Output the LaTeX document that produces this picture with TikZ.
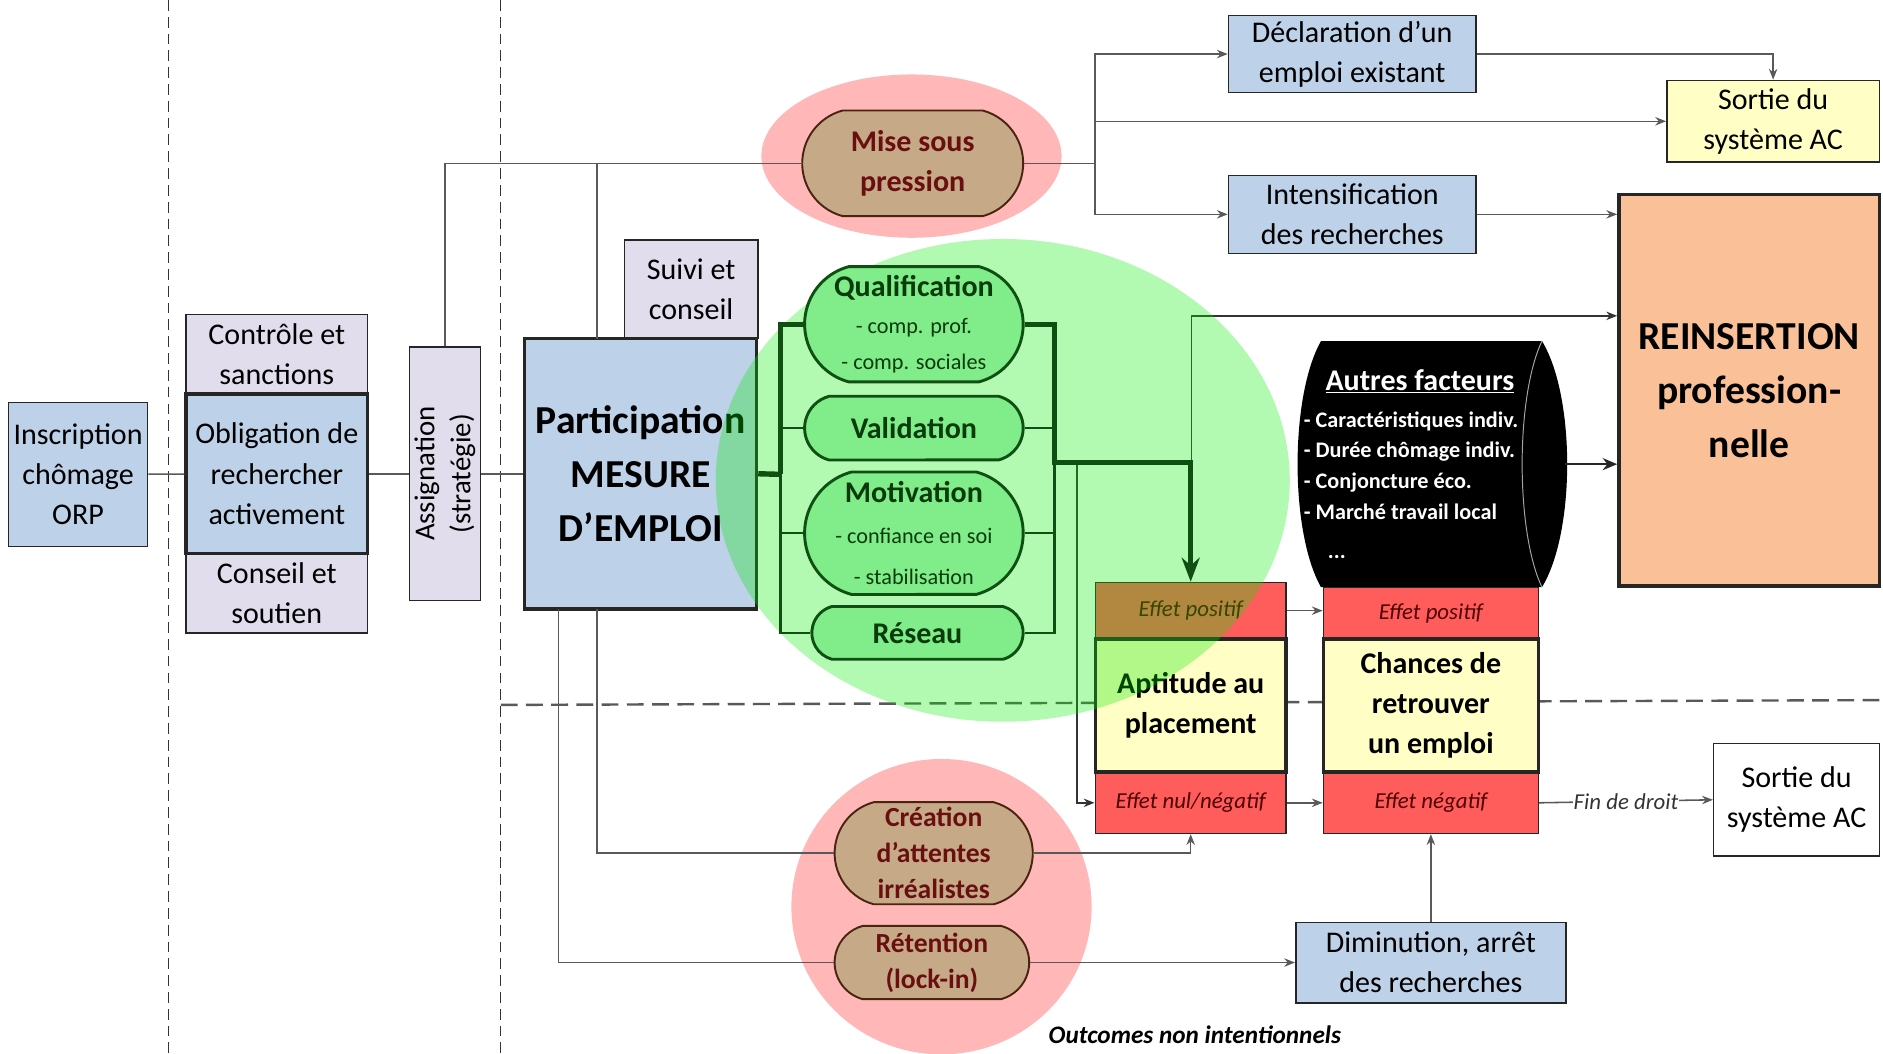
\documentclass[tikz,border=0pt]{standalone}
\usepackage{fontspec}
\setmainfont{Carlito}
\usetikzlibrary{arrows.meta,shapes.misc}

\definecolor{bluebox}{HTML}{BDD1E8}
\definecolor{lilac}{HTML}{E2DDEC}
\definecolor{paleyellow}{HTML}{FFFFC5}
\definecolor{effred}{HTML}{FF5C5C}
\definecolor{salmonbox}{HTML}{FAC098}
\definecolor{tanfill}{HTML}{C6AA88}
\definecolor{darkbrown}{HTML}{4A2410}
\definecolor{maroontxt}{HTML}{6A0F0F}
\definecolor{pinkzone}{HTML}{FFB7B7}
\definecolor{greenzone}{RGB}{0,235,0}
\definecolor{greennode}{HTML}{80EC8A}
\definecolor{greenline}{HTML}{0F4F12}
\definecolor{greentxt}{HTML}{0A3B0A}
\definecolor{linegray}{HTML}{595959}

\newcommand{\txtbox}{\fontsize{25}{33.5}\selectfont}
\newcommand{\txthuge}{\fontsize{33}{45}\selectfont\bfseries}
\newcommand{\txteff}{\fontsize{19}{23}\selectfont\itshape}
\newcommand{\txtsmall}{\fontsize{18.5}{25.5}\selectfont}

\begin{document}
\begin{tikzpicture}[x=1pt,y=-1pt,
    wh/.style 2 args={minimum width=#1pt,minimum height=#2pt},
    box/.style={draw=black!85,line width=1.3pt,fill=bluebox,align=center,inner sep=0pt,font=\txtbox},
    lilabox/.style={box,fill=lilac},
    keybox/.style={box,line width=2.8pt},
    effbox/.style={draw=black!85,line width=1.2pt,fill=effred,inner sep=0pt,font=\txteff,text=black!70!red},
    pill/.style={rounded rectangle,rounded rectangle arc length=150,inner sep=0pt,align=center},
    brownpill/.style={pill,draw=darkbrown,line width=1.6pt,fill=tanfill,text=maroontxt,font=\fontsize{23}{30}\selectfont\bfseries},
    greenpill/.style={pill,draw=greenline,line width=2.4pt,fill=greennode,text=greentxt,font=\fontsize{25}{30}\selectfont\bfseries},
    link/.style={draw=linegray,line width=1.3pt},
    arr/.style={link,-{Stealth[length=9pt,width=7pt]}},
    gthick/.style={draw=greenline,line width=4.5pt},
    gthin/.style={draw=greenline,line width=2pt},
    sepv/.style={draw=black!80,line width=0.9pt,dash pattern=on 9pt off 5pt},
    seph/.style={draw=black!65,line width=2pt,dash pattern=on 14pt off 7pt}]
  \useasboundingbox (0,0) rectangle (1568,877);

  \fill[pinkzone] (759,130) ellipse [x radius=125pt,y radius=68pt];
  \fill[pinkzone] (784,755) ellipse [x radius=125pt,y radius=123pt];
  \draw[sepv] (140,0) -- (140,877);
  \draw[sepv] (417,0) -- (417,877);
  \draw[seph] (417,587) -- (1568,583);

  \node[box,wh={116}{120}] (insc) at (65,395) {Inscription\\chômage\\ORP};
  \node[lilabox,wh={151}{66}] (ctrl) at (230.5,295) {Contrôle et\\sanctions};
  \node[lilabox,wh={151}{66}] (cons) at (230.5,494) {Conseil et\\soutien};
  \node[keybox,wh={151}{133}] (oblig) at (230.5,394.5) {Obligation de\\rechercher\\activement};
  \node[lilabox,rotate=90,wh={211}{59},font=\fontsize{24}{30}\selectfont] (assign) at (370.5,394.5) {Assignation\\(stratégie)};
  \node[lilabox,wh={111}{82}] (suivi) at (575.5,241) {Suivi et\\conseil};
  \node[keybox,wh={193}{225},font=\txthuge] (part) at (533.5,394.5) {Participation\\MESURE\\D’EMPLOI};
  \node[brownpill,wh={184}{88},font=\fontsize{25}{34}\selectfont\bfseries] (mise) at (760,136) {Mise sous\\pression};
  \node[box,wh={206}{64}] (decl) at (1126,45) {Déclaration d’un\\emploi existant};
  \node[box,fill=paleyellow,wh={177}{68}] (sortieA) at (1476.5,101) {Sortie du\\système AC};
  \node[box,wh={206}{65}] (intens) at (1126,178.5) {Intensification\\des recherches};
  \node[keybox,fill=salmonbox,wh={217}{326},font=\txthuge] (reins) at (1456.5,325) {REINSERTION\\profession-\\nelle};

  \node[wh={221}{205}] (autres) at (1192.5,386.5) {};
  \fill[black] (1100,284) -- (1284,284) .. controls (1312,330) and (1312,443) .. (1284,489)
    -- (1100,489) .. controls (1074,443) and (1074,330) .. (1100,284) -- cycle;
  \draw[gray!70,line width=0.8pt] (1284,284) .. controls (1262,330) and (1262,443) .. (1284,489);
  \node[text=white,font=\txtsmall\bfseries,align=left,inner sep=0pt] (autrestxt) at (1175,386.5)
    {\hspace*{18pt}{\fontsize{25}{31}\selectfont\underline{Autres facteurs}}\\[5pt]
     - Caractéristiques indiv.\\- Durée chômage indiv.\\- Conjoncture éco.\\- Marché travail local\\[7pt]
     \hspace*{20pt}...};

  \node[effbox,wh={159}{47}] (aptpos) at (991.5,508.5) {Effet positif};
  \node[effbox,wh={159}{51}] (aptneg) at (991.5,668.5) {Effet nul/négatif};
  \node[keybox,fill=paleyellow,wh={159}{111},font=\txtbox\bfseries] (apt) at (991.5,587.5) {Aptitude au\\placement};
  \node[effbox,wh={179}{43}] (chpos) at (1191.5,510.5) {Effet positif};
  \node[effbox,wh={179}{51}] (chneg) at (1191.5,668.5) {Effet négatif};
  \node[keybox,fill=paleyellow,wh={179}{111},font=\txtbox\bfseries] (ch) at (1191.5,587.5) {Chances de\\retrouver\\un emploi};
  \node[box,fill=white,wh={138}{94}] (sortieB) at (1496,666) {Sortie du\\système AC};

  \node[brownpill,wh={165}{85}] (creat) at (777.5,710.5) {Création\\d’attentes\\irréalistes};
  \node[brownpill,wh={162}{61}] (reten) at (776,801.5) {Rétention\\(lock-in)};
  \node[box,wh={225}{67}] (dimin) at (1191.5,801.5) {Diminution, arrêt\\des recherches};
  \node[font=\fontsize{21}{25}\selectfont\bfseries\itshape] (outc) at (995,862) {Outcomes non intentionnels};

  \coordinate (jmise) at (912,136);
  \coordinate (partup) at (497,282);
  \coordinate (partdn1) at (497,507);
  \coordinate (partdn2) at (465,507);
  \coordinate (gleft) at (650,395);
  \coordinate (gright) at (878,385);
  \coordinate (gdown) at (897,385);
  \coordinate (gup) at (992,385);

  \draw[link] (insc) -- (oblig);
  \draw[link] (oblig) -- (assign);
  \draw[link] (assign) -- (part);
  \draw[link] (assign.east) |- (mise.west);
  \draw[link] (partup) -- (partup |- mise.west);
  \draw[link] (mise.east) -- (jmise);
  \draw[arr] (jmise) |- (decl.west);
  \draw[arr] (jmise) |- (sortieA.west);
  \draw[arr] (jmise) |- (intens.west);
  \draw[arr] (decl.east) -| (sortieA.north);
  \draw[arr] (intens.east) -- (intens.east -| reins.west);
  \draw[arr,draw=black!85,line width=2.2pt,-{Stealth[length=12pt,width=10pt]}] (autres.east) -- (autres.east -| reins.west);
  \draw[arr,draw=black!80] (gup) |- ([yshift=62pt]reins.west);
  \draw[arr,draw=black!80] (gdown) |- (aptneg.west);
  \draw[arr] (aptpos.east) -- (aptpos.east -| chpos.west);
  \draw[arr] (aptneg.east) -- (chneg.west);
  \draw[arr] (chneg.east) -- node[fill=white,font=\txteff,text=black!80,inner sep=1pt] (findroit) {Fin de droit} (sortieB.west);
  \draw[link] (partdn1) |- (creat.west);
  \draw[arr] (creat.east) -| (aptneg.south);
  \draw[link] (partdn2) |- (reten.west);
  \draw[arr] (reten.east) -- (dimin.west);
  \draw[arr] (dimin.north) -- (chneg.south);

  \fill[greenzone,fill opacity=0.3] (835,400) ellipse [x radius=239pt,y radius=201pt];

  \node[greenpill,wh={182}{96}] (qual) at (761,270)
    {Qualification\\{\txtsmall\mdseries - comp. prof.}\\{\txtsmall\mdseries - comp. sociales}};
  \node[greenpill,wh={182}{53}] (valid) at (761,356.5) {Validation};
  \node[greenpill,wh={182}{102},font=\fontsize{25}{34}\selectfont\bfseries] (motiv) at (761,444)
    {Motivation\\{\txtsmall\mdseries - confiance en soi}\\{\txtsmall\mdseries - stabilisation}};
  \node[greenpill,wh={176}{44}] (reseau) at (764,527) {Réseau};

  \draw[gthick] (part.east) -- (gleft);
  \draw[gthick] (qual.west) -| (gleft);
  \draw[gthin] (gleft) |- (reseau.west);
  \draw[gthin] (valid.west) -- (valid.west -| gleft);
  \draw[gthin] (motiv.west) -- (motiv.west -| gleft);
  \draw[gthick,-{Stealth[length=20pt,width=15pt]}] (qual.east) -| (gright) -| (aptpos.north);
  \draw[gthin] (gright) |- (reseau.east);
  \draw[gthin] (valid.east) -- (valid.east -| gright);
  \draw[gthin] (motiv.east) -- (motiv.east -| gright);
\end{tikzpicture}
\end{document}
